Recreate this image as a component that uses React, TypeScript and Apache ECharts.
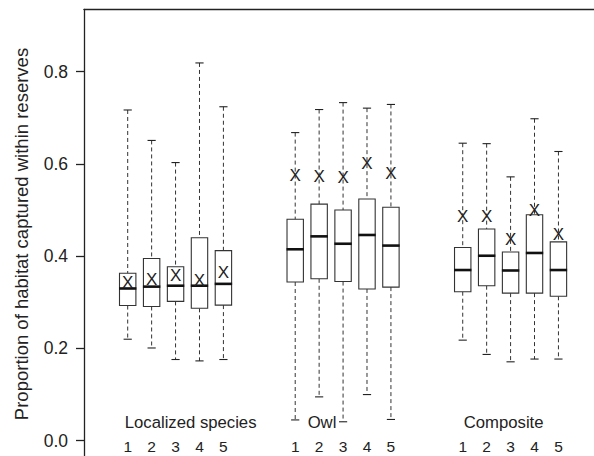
import React, { useEffect, useRef } from 'react';
import * as echarts from 'echarts';

// ---- data ----
const groups = ['Localized species', 'Owl', 'Composite'];
const scenarios = ['1', '2', '3', '4', '5'];
// per box, order: Localized 1-5, Owl 1-5, Composite 1-5
const whiskerLow = [0.220, 0.201, 0.176, 0.173, 0.176, 0.045, 0.095, 0.041, 0.100, 0.046, 0.218, 0.187, 0.171, 0.177, 0.177];
const quartile1 = [0.293, 0.291, 0.302, 0.287, 0.294, 0.344, 0.351, 0.345, 0.329, 0.333, 0.323, 0.336, 0.320, 0.320, 0.313];
const medians = [0.330, 0.334, 0.336, 0.336, 0.340, 0.415, 0.443, 0.427, 0.446, 0.423, 0.370, 0.401, 0.369, 0.407, 0.370];
const quartile3 = [0.363, 0.395, 0.377, 0.440, 0.412, 0.480, 0.513, 0.500, 0.524, 0.506, 0.419, 0.459, 0.409, 0.490, 0.431];
const whiskerHigh = [0.717, 0.651, 0.603, 0.819, 0.724, 0.668, 0.718, 0.733, 0.721, 0.729, 0.645, 0.644, 0.572, 0.698, 0.627];
const means = [0.342, 0.349, 0.358, 0.347, 0.365, 0.576, 0.573, 0.570, 0.600, 0.580, 0.485, 0.486, 0.437, 0.500, 0.448];
const yTicks = [0, 0.2, 0.4, 0.6, 0.8];
const yTitle = 'Proportion of habitat captured within reserves';

// ---- layout ----
const GROUP_STRIDE = 7;
const groupLabelX = [3.63, 9.12, 16.71];
const FONT = '"Liberation Sans", Arial, Helvetica, sans-serif';
const INK = '#222';

const xOf = (k: number) => Math.floor(k / 5) * GROUP_STRIDE + (k % 5) + 1;

const boxData = whiskerLow.map((_, k) => [xOf(k), whiskerLow[k], quartile1[k], medians[k], quartile3[k], whiskerHigh[k]]);
const meanData = means.map((m, k) => [xOf(k), m]);
const digitData = whiskerLow.map((_, k) => [xOf(k), 0]);
const groupData = groups.map((_, g) => [groupLabelX[g], 0]);

export default function App() {
  const ref = useRef<HTMLDivElement>(null);
  useEffect(() => {
    if (!ref.current) return;
    const chart = echarts.init(ref.current, null, { renderer: 'svg' });
    chart.setOption({
      animation: false,
      grid: { left: 84, right: 0, top: 9.3, bottom: 0, containLabel: false },
      xAxis: {
        type: 'value',
        position: 'top',
        min: -0.826,
        max: 20.486,
        axisLine: { show: true, onZero: false, lineStyle: { color: INK, width: 1.3 } },
        axisTick: { show: false },
        axisLabel: { show: false },
        splitLine: { show: false },
      },
      yAxis: {
        type: 'value',
        min: -0.0332,
        max: 0.9353,
        axisLine: { show: true, onZero: false, lineStyle: { color: INK, width: 1.3 } },
        axisTick: { show: true, length: 8, customValues: yTicks, lineStyle: { color: INK, width: 1.3 } },
        axisLabel: {
          customValues: yTicks,
          formatter: (v: number) => v.toFixed(1),
          fontSize: 17.5,
          fontFamily: FONT,
          color: INK,
          margin: 16,
        },
        splitLine: { show: false },
      },
      graphic: [
        {
          type: 'text',
          x: 21,
          y: 234,
          rotation: Math.PI / 2,
          style: {
            text: yTitle,
            fontSize: 18.5,
            fontFamily: FONT,
            fill: INK,
            textAlign: 'center',
            textVerticalAlign: 'middle',
          },
        },
      ],
      series: [
        {
          type: 'custom',
          data: boxData,
          encode: { x: 0, y: [1, 2, 3, 4, 5] },
          clip: false,
          renderItem: (params: any, api: any) => {
            const x = api.value(0);
            const low = api.coord([x, api.value(1)]);
            const q1 = api.coord([x, api.value(2)]);
            const med = api.coord([x, api.value(3)]);
            const q3 = api.coord([x, api.value(4)]);
            const high = api.coord([x, api.value(5)]);
            const unit = api.size([1, 0])[0];
            const bw = unit * 0.685;
            const cw = bw * 0.5;
            const cx = low[0];
            const dash = { stroke: '#333', lineWidth: 1, lineDash: [4, 3], fill: null };
            const solid = { stroke: INK, lineWidth: 1.1, fill: null };
            return {
              type: 'group',
              children: [
                { type: 'line', shape: { x1: cx, y1: high[1], x2: cx, y2: q3[1] }, style: dash },
                { type: 'line', shape: { x1: cx, y1: q1[1], x2: cx, y2: low[1] }, style: dash },
                { type: 'line', shape: { x1: cx - cw / 2, y1: high[1], x2: cx + cw / 2, y2: high[1] }, style: solid },
                { type: 'line', shape: { x1: cx - cw / 2, y1: low[1], x2: cx + cw / 2, y2: low[1] }, style: solid },
                {
                  type: 'rect',
                  shape: { x: cx - bw / 2, y: q3[1], width: bw, height: q1[1] - q3[1] },
                  style: { stroke: '#333', lineWidth: 1.1, fill: '#fff' },
                },
                {
                  type: 'line',
                  shape: { x1: cx - bw / 2 - 0.5, y1: med[1], x2: cx + bw / 2 + 0.5, y2: med[1] },
                  style: { stroke: '#111', lineWidth: 2.6 },
                },
              ],
            };
          },
        },
        {
          type: 'custom',
          data: meanData,
          encode: { x: 0, y: 1 },
          clip: false,
          renderItem: (params: any, api: any) => {
            const p = api.coord([api.value(0), api.value(1)]);
            return {
              type: 'text',
              x: p[0],
              y: p[1],
              style: {
                text: 'X',
                fontSize: 17,
                fontFamily: FONT,
                fill: INK,
                textAlign: 'center',
                textVerticalAlign: 'middle',
              },
            };
          },
        },
        {
          type: 'custom',
          data: digitData,
          encode: { x: 0, y: 1 },
          clip: false,
          renderItem: (params: any, api: any) => {
            const p = api.coord([api.value(0), api.value(1)]);
            return {
              type: 'text',
              x: p[0],
              y: p[1] + 6,
              style: {
                text: scenarios[params.dataIndex % 5],
                fontSize: 15.5,
                fontFamily: FONT,
                fill: INK,
                textAlign: 'center',
                textVerticalAlign: 'middle',
              },
            };
          },
        },
        {
          type: 'custom',
          data: groupData,
          encode: { x: 0, y: 1 },
          clip: false,
          renderItem: (params: any, api: any) => {
            const p = api.coord([api.value(0), api.value(1)]);
            return {
              type: 'text',
              x: p[0],
              y: p[1] - 18,
              style: {
                text: groups[params.dataIndex],
                fontSize: 16.7,
                fontFamily: FONT,
                fill: INK,
                textAlign: 'center',
                textVerticalAlign: 'middle',
              },
            };
          },
        },
      ],
    });
    return () => chart.dispose();
  }, []);
  return (
    <div
      ref={ref}
      style={{ position: 'fixed', left: 0, top: 0, width: 594, height: 456, background: '#fff' }}
    />
  );
}
